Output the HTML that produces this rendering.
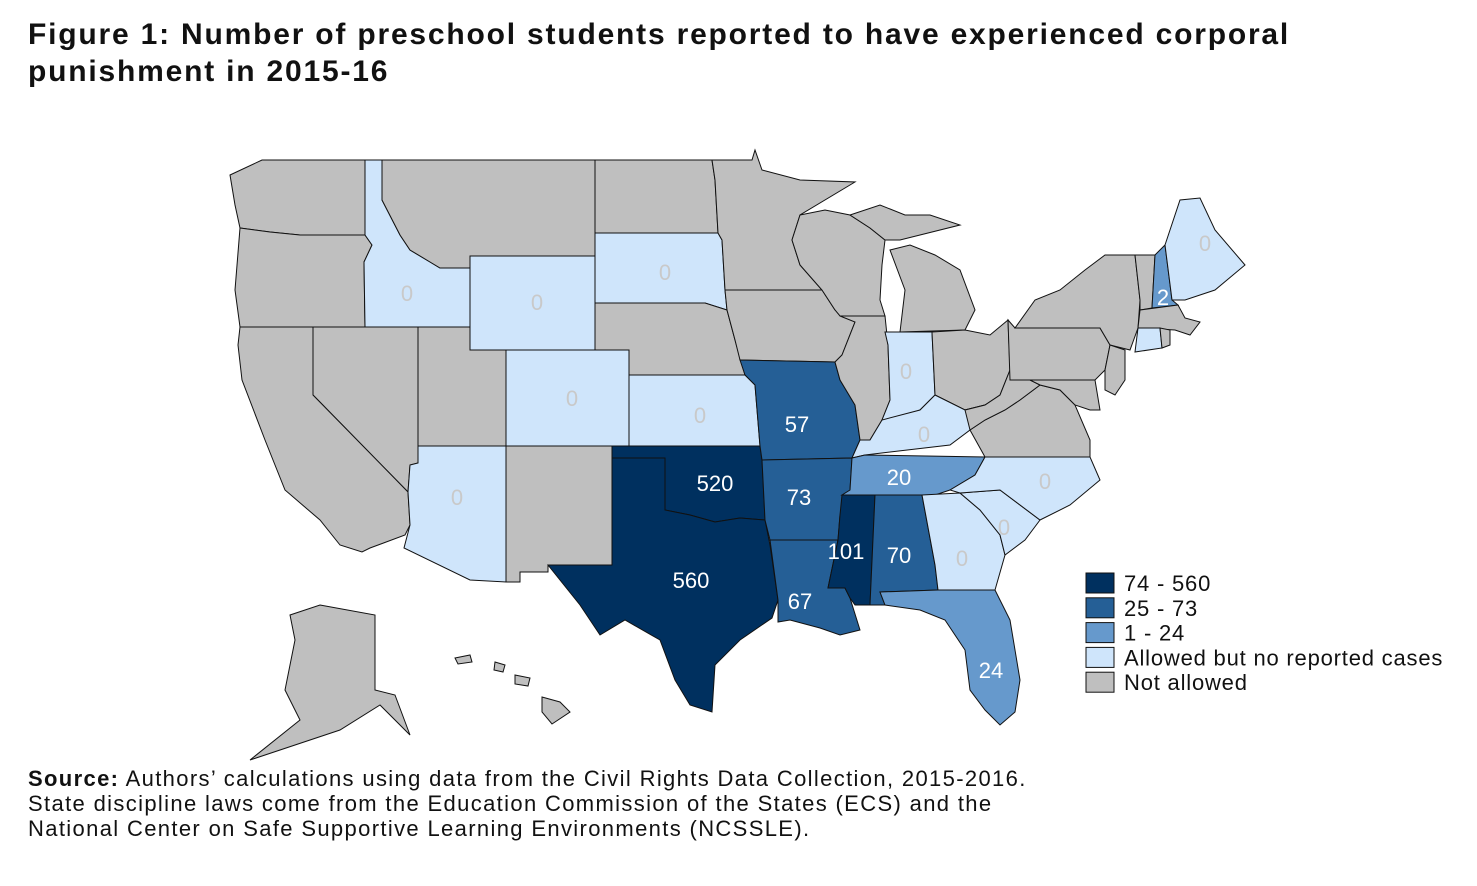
<!DOCTYPE html>
<html><head><meta charset="utf-8">
<style>
body{margin:0;background:#fff;width:1477px;height:886px;overflow:hidden;font-family:"Liberation Sans",sans-serif;}
#title{position:absolute;left:28px;top:16px;font-size:30px;font-weight:bold;line-height:37px;color:#111;letter-spacing:1.8px;white-space:nowrap;}
#source{position:absolute;left:28px;top:766px;font-size:22px;line-height:25px;color:#111;letter-spacing:1.35px;white-space:nowrap;}
svg{position:absolute;left:0;top:0;}
</style></head><body>
<div id="title">Figure 1: Number of preschool students reported to have experienced corporal<br>punishment in 2015-16</div>
<svg id="map" width="1477" height="886"></svg>
<div id="source"><b>Source:</b> Authors’ calculations using data from the Civil Rights Data Collection, 2015-2016.<br>State discipline laws come from the Education Commission of the States (ECS) and the<br>National Center on Safe Supportive Learning Environments (NCSSLE).</div>
<script>
// data: null = not allowed, number = reported cases
const states = ["ID","WY","SD","CO","KS","AZ","MO","OK","AR","TX","LA","MS","AL","TN","GA","SC","NC","KY","IN","FL","NH","ME","CT"];
const values = [0,0,0,0,0,0,57,520,73,560,67,101,70,20,0,0,0,0,0,24,2,0,0];
const legendLabels = ["74 - 560","25 - 73","1 - 24","Allowed but no reported cases","Not allowed"];
const legendColors = ["#00305f","#255f96","#6699cc","#cfe5fb","#bfbfbf"];

const shapes = {
WA:"230,175 262,160 365,160 365,235 300,235 270,232 240,228 235,205",
OR:"240,228 270,232 300,235 365,235 372,245 364,262 365,327 240,327 235,290",
ID:"365,160 382,160 382,200 400,235 410,250 430,262 440,268 470,268 470,327 365,327 364,262 372,245 365,235",
MT:"382,160 595,160 595,256 470,256 470,268 440,268 430,262 410,250 400,235 382,200",
WY:"470,256 595,256 595,350 470,350",
NV:"313,327 418,327 418,463 410,465 408,492 313,395",
CA:"240,327 313,327 313,395 408,492 410,525 405,535 370,548 362,552 340,545 320,520 285,490 265,440 242,380 238,345",
UT:"418,327 470,327 470,350 506,350 506,446 418,446",
AZ:"418,446 506,446 506,582 470,580 404,548 410,525 408,492 410,465 418,463",
CO:"506,350 629,350 629,446 506,446",
NM:"506,446 612,446 612,565 548,565 548,572 520,572 520,582 506,582",
ND:"595,160 712,160 715,180 718,233 595,233",
SD:"595,233 718,233 722,240 725,290 727,310 705,303 595,303",
NE:"595,303 705,303 727,310 735,340 745,375 629,375 629,350 595,350",
KS:"629,375 745,375 755,385 760,446 629,446",
OK:"612,446 760,446 762,460 765,520 740,518 715,522 690,515 665,510 665,458 612,458",
TX:"612,458 665,458 665,510 690,515 715,522 740,518 765,520 770,545 778,600 772,618 740,640 715,665 712,712 690,705 675,680 660,640 625,620 600,635 580,605 548,565 612,565",
MN:"712,160 752,160 755,150 762,170 800,180 855,182 800,215 792,240 800,265 822,290 725,290 722,240 718,233 715,180",
IA:"725,290 822,290 835,310 855,322 842,355 835,362 740,360 735,340 727,310",
MO:"740,360 835,362 840,380 855,405 860,440 852,458 762,460 760,446 755,385 745,375",
AR:"762,460 852,458 850,490 840,515 838,540 770,540 765,520",
LA:"770,540 838,540 828,588 845,588 850,598 860,630 840,635 820,628 790,620 778,622 778,600",
WI:"800,215 825,210 850,215 870,228 885,240 882,265 880,300 885,316 840,316 835,310 822,290 800,265 792,240",
IL:"840,316 885,316 888,345 890,400 882,420 870,440 860,440 855,405 840,380 835,362 842,355 855,322",
MI:"890,250 910,245 935,255 960,270 975,310 965,330 900,332 905,290",
MIU:"850,215 880,205 905,215 930,215 960,225 900,240 885,240 870,228",
IN:"885,332 932,332 935,395 920,410 895,420 882,420 890,400 888,345",
OH:"932,332 965,330 990,335 1008,320 1010,370 1000,395 985,405 965,410 935,395",
KY:"860,440 870,440 882,420 920,410 935,395 965,410 985,405 970,430 950,445 865,455 852,458",
TN:"852,458 865,455 985,457 975,475 950,490 935,495 842,495 850,490",
MS:"842,495 875,495 870,605 855,605 850,598 845,588 828,588 838,540 840,515",
AL:"875,495 922,495 935,565 938,590 880,592 885,605 870,605",
GA:"922,495 960,493 980,510 1000,535 1005,555 995,590 938,590 935,565",
FL:"880,592 938,590 995,590 1010,620 1020,680 1015,712 1000,725 985,710 970,690 965,650 945,620 920,610 885,605",
SC:"960,493 1000,490 1040,520 1025,540 1005,555 1000,535 980,510",
NC:"950,490 975,475 985,457 1090,457 1100,480 1070,505 1040,520 1000,490 960,493",
VA:"985,457 970,430 985,420 1005,410 1020,400 1040,385 1060,390 1075,405 1090,440 1090,457",
WV:"965,410 985,405 1000,395 1010,370 1010,380 1030,380 1040,385 1020,400 1005,410 985,420 970,430",
PA:"1008,320 1015,328 1100,328 1110,345 1105,370 1095,380 1010,380",
NY:"1015,328 1035,300 1060,290 1085,270 1105,255 1135,255 1140,300 1138,328 1130,350 1110,345 1100,328",
MD:"1030,380 1095,380 1100,410 1090,410 1075,405 1060,390 1040,385",
NJ:"1110,345 1125,350 1125,380 1115,395 1105,390 1105,370",
VT:"1135,255 1155,255 1152,308 1140,310 1140,300",
NH:"1155,255 1165,245 1172,300 1178,305 1152,308",
ME:"1165,245 1180,200 1200,198 1215,230 1245,265 1215,290 1185,300 1172,300",
MA:"1140,310 1178,305 1185,318 1200,322 1190,335 1175,330 1138,328",
CT:"1138,328 1160,328 1162,348 1135,352",
RI:"1160,328 1170,330 1170,345 1162,348",
AK:"320,605 375,615 375,690 395,695 410,735 380,705 340,730 250,760 300,720 285,690 295,640 290,615",
HI1:"455,658 470,655 472,662 458,664",
HI2:"495,662 505,665 503,672 494,670",
HI3:"515,675 530,678 528,686 515,684",
HI4:"542,697 560,702 570,712 552,724 542,712"
};
const labelPos = {ID:[407,293],WY:[537,302],SD:[665,272],CO:[572,398],KS:[700,415],AZ:[457,497],MO:[797,424],OK:[715,483],AR:[799,497],TX:[691,580],LA:[800,601],MS:[846,551],AL:[899,555],TN:[899,477],GA:[962,558],SC:[1004,527],NC:[1045,481],KY:[924,434],IN:[906,371],FL:[991,670],NH:[1163,297],ME:[1205,243]};

function colorFor(v){
  if(v===null||v===undefined) return legendColors[4];
  if(v===0) return legendColors[3];
  if(v<=24) return legendColors[2];
  if(v<=73) return legendColors[1];
  return legendColors[0];
}
const NS="http://www.w3.org/2000/svg";
const svg=document.getElementById('map');
for(const k in shapes){
  const idx=states.indexOf(k);
  const v=idx>=0?values[idx]:null;
  const p=document.createElementNS(NS,'polygon');
  p.setAttribute('points',shapes[k]);
  p.setAttribute('fill',colorFor(v));
  p.setAttribute('stroke','#111');
  p.setAttribute('stroke-width','1');
  
  
  svg.appendChild(p);
}
states.forEach((s,i)=>{
  const pos=labelPos[s]; if(!pos) return;
  const t=document.createElementNS(NS,'text');
  t.setAttribute('x',pos[0]); t.setAttribute('y',pos[1]+8);
  t.setAttribute('text-anchor','middle');
  t.setAttribute('font-size','22');
  t.setAttribute('font-family','Liberation Sans, sans-serif');
  t.setAttribute('fill',values[i]===0?'#c9c9c9':'#fff');
  t.textContent=values[i];
  
  
  svg.appendChild(t);
});
legendLabels.forEach((lab,i)=>{
  const y=573+i*24.8;
  const r=document.createElementNS(NS,'rect');
  r.setAttribute('x',1086); r.setAttribute('y',y);
  r.setAttribute('width',28); r.setAttribute('height',20);
  r.setAttribute('fill',legendColors[i]); r.setAttribute('stroke','#111');
  
  
  svg.appendChild(r);
  const t=document.createElementNS(NS,'text');
  t.setAttribute('x',1124); t.setAttribute('y',y+18);
  t.setAttribute('font-size','22');
  t.setAttribute('letter-spacing','0.8');
  t.setAttribute('font-family','Liberation Sans, sans-serif');
  t.setAttribute('fill','#111');
  t.textContent=lab;
  
  
  svg.appendChild(t);
});
</script>
</body></html>
